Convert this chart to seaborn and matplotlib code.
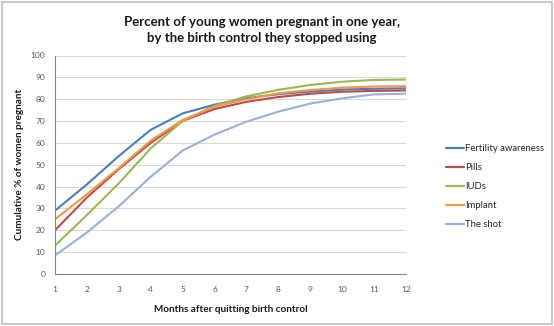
import matplotlib
matplotlib.use("Agg")
import matplotlib.pyplot as plt
import seaborn as sns
import pandas as pd
from matplotlib.patches import Rectangle

months = list(range(1, 13))
fertility = [29, 41, 54, 66, 73.5, 77.5, 80.5, 82.3, 83.5, 84.4, 84.8, 85]
pills = [20, 35, 48, 60, 70, 75.5, 78.8, 81, 82.5, 83.4, 83.8, 84]
iuds = [13, 27, 41.5, 57.5, 70, 77, 81.3, 84.3, 86.5, 88, 88.8, 89]
implant = [25, 36.5, 48.5, 61, 70.5, 76.5, 80, 82.7, 84.2, 85.3, 85.8, 86]
shot = [8.5, 19, 31, 44.5, 56.5, 63.8, 69.7, 74.3, 78, 80.4, 82.2, 82.5]

series_names = ["Fertility awareness", "Pills", "IUDs", "Implant", "The shot"]
series_vals = [fertility, pills, iuds, implant, shot]
colors = ["#4A7EBB", "#BE4B48", "#98B954", "#F79646", "#95B3D7"]

rows = []
for name, vals in zip(series_names, series_vals):
    for m, v in zip(months, vals):
        rows.append({"Month": m, "Value": v, "Series": name})
df = pd.DataFrame(rows)

sns.set_theme(style="white")
plt.rcParams['font.family'] = ['Lato', 'DejaVu Sans']

fig = plt.figure(figsize=(5.54, 3.26), dpi=100)
ax = fig.add_axes([55/554, 52/326, 351/554, 218.5/326])

sns.lineplot(data=df, x="Month", y="Value", hue="Series", hue_order=series_names,
             palette=colors, linewidth=1.5, ax=ax, legend=False, sort=True)

ax.set_xlim(1, 12)
ax.set_ylim(0, 100)
ax.set_xticks(months)
ax.set_yticks(range(0, 101, 10))
ax.tick_params(axis='both', labelsize=6, colors='#595959', length=3, width=0.7,
               direction='out', pad=4)
ax.tick_params(axis='x', pad=6)
for lab in ax.get_xticklabels() + ax.get_yticklabels():
    lab.set_color('#595959')
ax.grid(axis='y', color='#D9D9D9', linewidth=0.8)
ax.set_axisbelow(True)
for s in ['top', 'right']:
    ax.spines[s].set_visible(False)
for s in ['left', 'bottom']:
    ax.spines[s].set_color('#868686')
    ax.spines[s].set_linewidth(0.8)

ax.set_xlabel("Months after quitting birth control", fontsize=7.2, fontweight='bold',
              color='#1a1a1a', labelpad=8)
ax.set_ylabel("Cumulative % of women pregnant", fontsize=7.2, fontweight='bold',
              color='#1a1a1a', labelpad=5)

fig.text(262 / 554, 1 - 30 / 326,
         "Percent of young women pregnant in one year,\nby the birth control they stopped using",
         ha='center', va='center', fontsize=9.5, fontweight='bold', color='#1a1a1a',
         linespacing=1.45)

handles = [plt.Line2D([0], [0], color=c, lw=1.6) for c in colors]
fig.legend(handles, series_names, loc='center left', bbox_to_anchor=(446/554, 1 - 186.5/326),
           frameon=False, fontsize=6.8, handlelength=1.9, handletextpad=0.1,
           labelspacing=1.05, borderaxespad=0, borderpad=0)

fig.patches.append(Rectangle((0.004, 0.006), 0.992, 0.988, transform=fig.transFigure,
                             fill=False, edgecolor='#BFBFBF', linewidth=1.2))

fig.savefig("out.png", dpi=100)
